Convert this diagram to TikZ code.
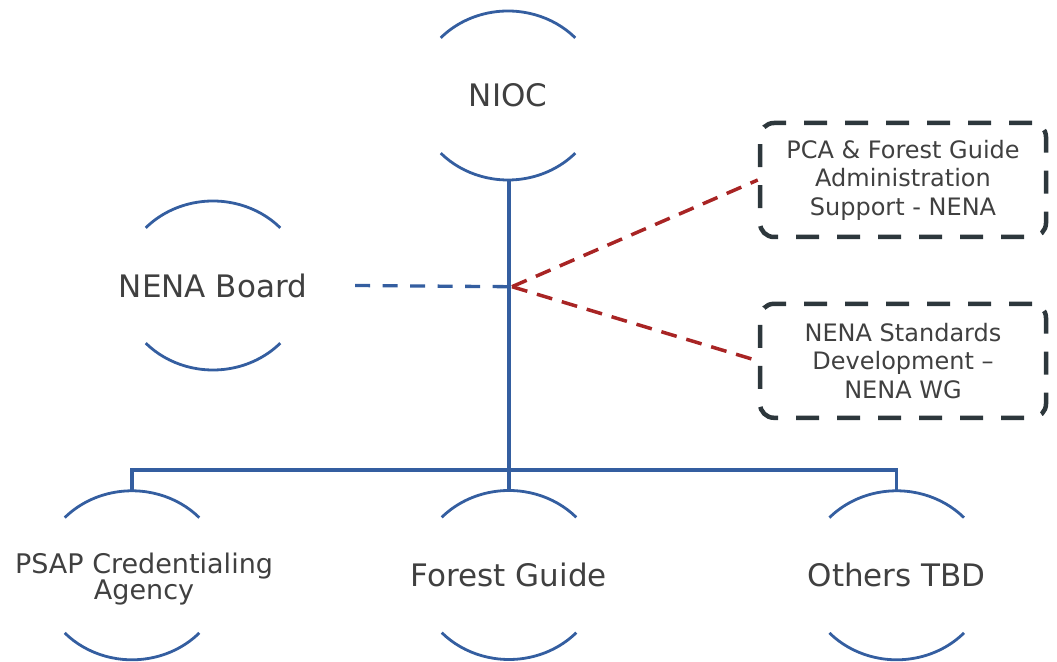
\documentclass[tikz,border=0pt]{standalone}
\usepackage{fontspec}
\setmainfont{DejaVu Sans}
\usetikzlibrary{shapes.geometric}
\definecolor{orgblue}{RGB}{52,94,160}
\definecolor{linkred}{RGB}{168,36,36}
\definecolor{boxgray}{RGB}{45,55,60}
\definecolor{labelgray}{RGB}{64,64,64}
\tikzset{unittext/.style={text=labelgray, align=center, inner sep=0pt,
        font=\fontsize{31}{36}\selectfont},
    unit/.style={ellipse, minimum width=184pt, minimum height=169pt,
        inner sep=0pt},
    unitarc/.style={draw=orgblue, line width=2.8pt},
    orgline/.style={draw=orgblue, line width=3.3pt},
    boardlink/.style={orgline, dash pattern=on 15pt off 12.5pt},
    supportlink/.style={draw=linkred, line width=3.5pt, dash pattern=on 16pt off 10pt},
    supportbox/.style={draw=boxgray, line width=4.5pt, dash pattern=on 23pt off 18pt,
        rounded corners=14pt, minimum width=286pt, minimum height=114pt,
        align=center, text=labelgray, font=\fontsize{24}{28.5}\selectfont},
    }
\newcommand\unitarcs[1]{%
  \draw[unitarc] ([shift={(43:92pt and 84.5pt)}]#1.center)
    arc[start angle=43, end angle=137, x radius=92pt, y radius=84.5pt];
  \draw[unitarc] ([shift={(223:92pt and 84.5pt)}]#1.center)
    arc[start angle=223, end angle=317, x radius=92pt, y radius=84.5pt];}

\begin{document}
\begin{tikzpicture}[x=1pt,y=1pt]
	\useasboundingbox (0,0) rectangle (1057,661);
	% units
	\node[unit, label={[unittext]center:NIOC}] (nioc) at (508,565.5) {};
	\node[unit, label={[unittext]center:NENA Board}] (board) at (213,375.5) {};
	\node[unit, label={[unittext, font=\fontsize{27}{26}\selectfont, xshift=12pt, yshift=-4pt]center:{PSAP Credentialing\\Agency}}] (psap) at (132,85.7) {};
	\node[unit, label={[unittext]center:Forest Guide}] (forest) at (509,86) {};
	\node[unit, label={[unittext]center:Others TBD}] (others) at (896.7,85.7) {};
	\foreach \u in {nioc,board,psap,forest,others}{\unitarcs{\u}}
	% support boxes
	\node[supportbox] (pca) at (903,481) {PCA \& Forest Guide\\Administration\\Support - NENA};
	\node[supportbox] (stds) at (903,300.2) {NENA Standards\\Development –\\NENA WG};
	% connectors
	\coordinate (bus) at (509,191);
	\coordinate (hub) at (509,374.3);
	\draw[orgline] (nioc.south -| bus) -- (forest.north);
	\draw[orgline] (psap.north) |- (bus) -| (others.north);
	\draw[boardlink] ([xshift=50pt]board.east) -- (hub);
	\draw[supportlink] ([xshift=3pt]hub) -- (pca.west);
	\draw[supportlink] ([xshift=3pt]hub) -- (stds.west);
\end{tikzpicture}
\end{document}
